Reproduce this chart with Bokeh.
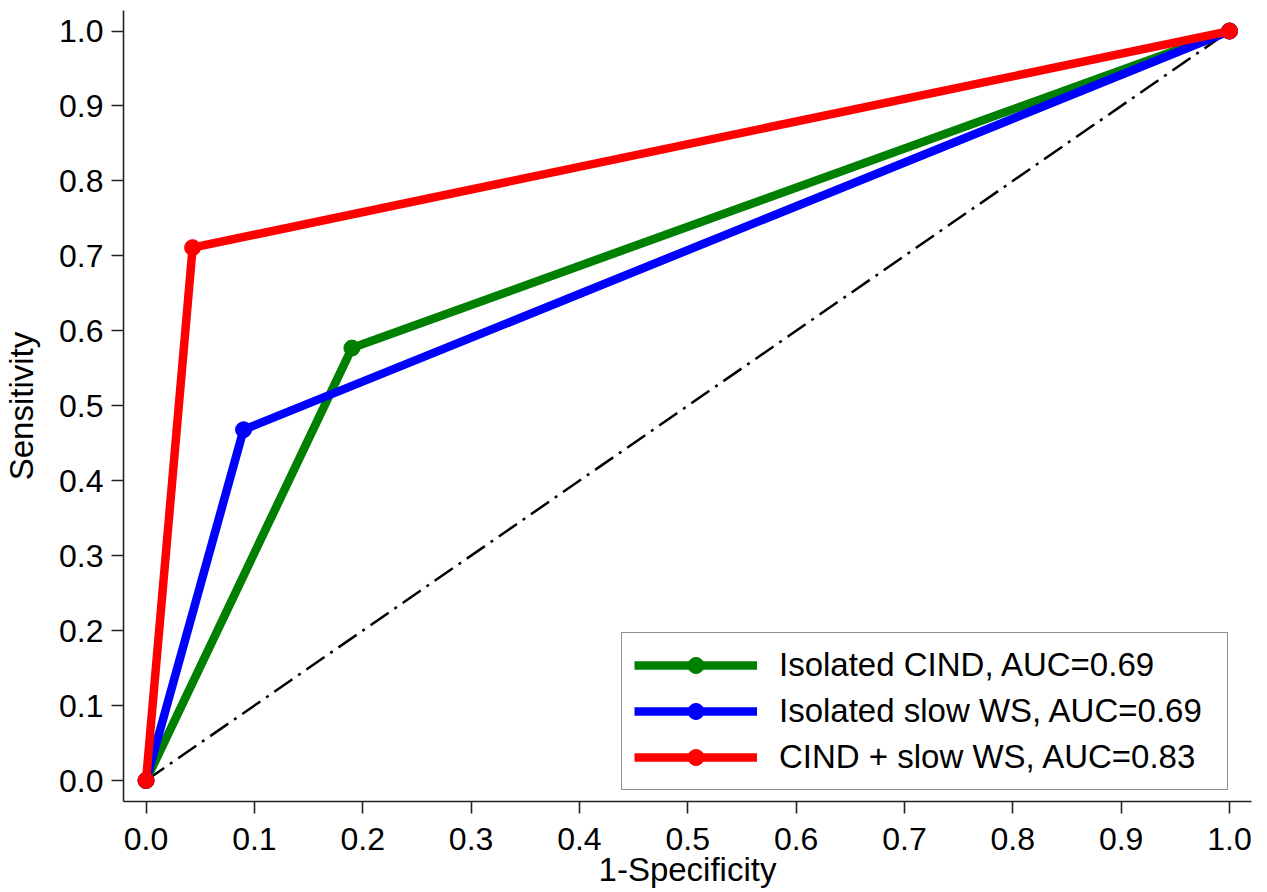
from bokeh.plotting import figure
from bokeh.models import Range1d, FixedTicker, Legend, LegendItem, PrintfTickFormatter
from bokeh.embed import file_html
from bokeh.resources import INLINE

# ---- data ----
series_names = ["Isolated CIND, AUC=0.69", "Isolated slow WS, AUC=0.69", "CIND + slow WS, AUC=0.83"]
cind_fpr = [0.0, 0.19, 1.0]
cind_tpr = [0.0, 0.577, 1.0]
ws_fpr = [0.0, 0.09, 1.0]
ws_tpr = [0.0, 0.468, 1.0]
both_fpr = [0.0, 0.043, 1.0]
both_tpr = [0.0, 0.711, 1.0]
ref_x = [0.0, 1.0]
ref_y = [0.0, 1.0]
tick_values = [0.0, 0.1, 0.2, 0.3, 0.4, 0.5, 0.6, 0.7, 0.8, 0.9, 1.0]
colors = ["#008000", "#0000FF", "#FF0000"]

FONT = "Liberation Sans"

p = figure(frame_width=1128, frame_height=791, output_backend="svg", toolbar_location=None,
           x_range=Range1d(-0.0208, 1.0203), y_range=Range1d(-0.028, 1.0274),
           min_border_left=122, min_border_top=10, min_border_right=15, min_border_bottom=10)
p.outline_line_color = None
p.xgrid.visible = False
p.ygrid.visible = False
p.background_fill_color = "white"
p.border_fill_color = "white"

for ax in (p.xaxis[0], p.yaxis[0]):
    ax.ticker = FixedTicker(ticks=tick_values)
    ax.formatter = PrintfTickFormatter(format="%.1f")
    ax.axis_line_color = "#222222"
    ax.axis_line_width = 1.6
    ax.major_tick_line_color = "#222222"
    ax.major_tick_line_width = 1.6
    ax.major_tick_out = 12
    ax.major_tick_in = 0
    ax.minor_tick_line_color = None
    ax.major_label_text_font = FONT
    ax.major_label_text_font_size = "32px"
    ax.major_label_text_color = "black"
    ax.axis_label_text_font = FONT
    ax.axis_label_text_font_size = "33px"
    ax.axis_label_text_font_style = "normal"
    ax.axis_label_text_color = "black"

p.xaxis.axis_label = "1-Specificity"
p.yaxis.axis_label = "Sensitivity"
p.xaxis.major_label_standoff = 14
p.xaxis.axis_label_standoff = -2
p.yaxis.major_label_standoff = 8
p.yaxis.axis_label_standoff = 16

# reference diagonal
p.line(ref_x, ref_y, line_color="black", line_width=2.5, line_dash="22 7 3 7")

items = []
for name, xs, ys, c in zip(series_names,
                           [cind_fpr, ws_fpr, both_fpr],
                           [cind_tpr, ws_tpr, both_tpr], colors):
    l = p.line(xs, ys, line_color=c, line_width=8.5)
    s = p.scatter(xs, ys, marker="circle", size=16, fill_color=c, line_color=c)
    items.append(LegendItem(label=name, renderers=[l, s]))

legend = Legend(items=items, location=(498, 11))
legend.label_text_font = FONT
legend.label_text_font_size = "33px"
legend.label_text_color = "black"
legend.glyph_width = 123
legend.glyph_height = 40
legend.label_height = 40
legend.label_width = 436
legend.label_standoff = 22
legend.spacing = 6
legend.padding = 12
legend.margin = 0
legend.border_line_color = "#222222"
legend.border_line_width = 1.6
legend.background_fill_color = "white"
legend.background_fill_alpha = 1.0
p.add_layout(legend, "center")

open("out.html", "w").write(file_html(p, INLINE))
